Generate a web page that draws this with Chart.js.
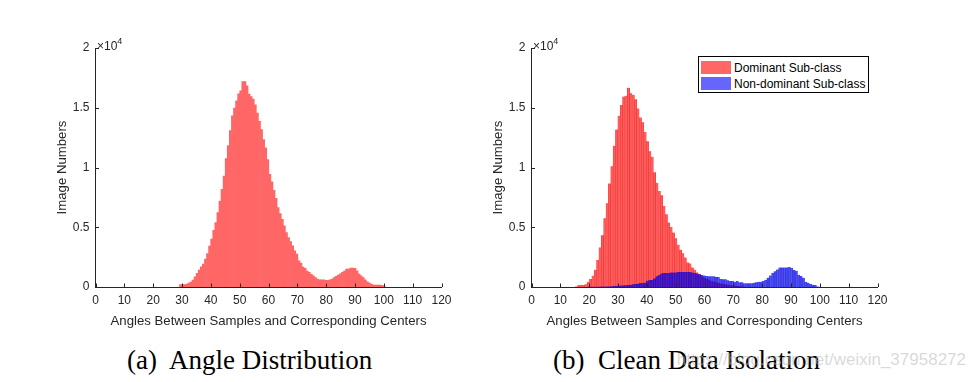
<!DOCTYPE html>
<html><head><meta charset="utf-8">
<script src="https://cdn.jsdelivr.net/npm/chart.js@4.4.1/dist/chart.umd.min.js"></script>
<style>
html,body{margin:0;padding:0;background:#fff;}
body{width:979px;height:382px;position:relative;overflow:hidden;font-family:"Liberation Sans",Arial,sans-serif;}
canvas{position:absolute;top:0;}
.exp{position:absolute;font-size:12px;color:#262626;line-height:12px;white-space:nowrap;}
.exp sup{font-size:9px;position:relative;top:-1px;}
.cap{position:absolute;font-family:"Liberation Serif","Times New Roman",serif;font-size:27px;color:#000;white-space:nowrap;line-height:27px;}
.legend{position:absolute;left:698px;top:56px;width:171px;height:37px;border:1px solid #000;background:#fff;box-sizing:border-box;}
.legend .row{position:absolute;left:2px;height:14px;font-size:12px;color:#000;line-height:14px;white-space:nowrap;}
.legend .sw{display:inline-block;width:30px;height:13px;vertical-align:top;margin-right:3px;}
.wm{position:absolute;right:13px;top:350px;font-size:17px;color:rgba(185,185,185,0.55);white-space:nowrap;}
</style></head>
<body>
<canvas id="c1" width="470" height="340" style="left:0px"></canvas>
<canvas id="c2" width="470" height="340" style="left:436px"></canvas>

<div class="exp" style="left:97px;top:36px">×10<sup>4</sup></div>
<div class="exp" style="left:533px;top:36px">×10<sup>4</sup></div>

<div class="legend">
  <div class="row" style="top:4px"><span class="sw" style="background:#ff6666"></span>Dominant Sub-class</div>
  <div class="row" style="top:20px"><span class="sw" style="background:#6666ff"></span>Non-dominant Sub-class</div>
</div>

<div class="cap" style="left:127px;top:347px">(a)&nbsp; Angle Distribution</div>
<div class="cap" style="left:553px;top:347px">(b)&nbsp; Clean Data Isolation</div>
<div class="wm">https://blog.csdn.net/weixin_37958272</div>

<script>
// ---- Data (counts of images per angle bin, in degrees) ----
const xTickValues = [0,10,20,30,40,50,60,70,80,90,100,110,120];
const yTickLabels = ["0","0.5","1","1.5","2"];

// (a) Angle distribution histogram
const angleBinStart = 29.5;
const angleBinWidth = 0.72;
const angleCounts = [
  200,200,200,250,330,420,580,860,1140,1420,
  1690,1920,2330,2800,3420,4000,4750,5390,6220,7200,
  8170,9280,10750,11830,13080,14330,14970,15580,16170,16420,
  17200,17200,16830,16140,15940,15720,15250,14560,13860,13170,
  12330,11640,10670,9420,8810,8080,7420,6640,6140,5670,
  5110,4560,4140,3810,3440,3030,2750,2190,2000,1670,
  1560,1330,1220,1060,940,780,670,610,610,610,
  560,560,610,670,780,890,1000,1110,1220,1330,
  1500,1500,1580,1580,1560,1360,1080,940,780,610,
  440,330,220,170,170,170,170,110,110
];

// (b) Clean data isolation histograms (shared bin grid)
const isoBinStart = 15.6;
const isoBinWidth = 0.82;
const dominantFirstBin = 0;
const dominantCounts = [
  50,170,170,170,220,440,670,940,1440,2250,
  3310,4330,5750,7000,8670,10110,11830,13170,14330,15220,
  15940,16000,16670,16220,16080,15720,14940,14190,13780,12970,
  12190,11360,10890,9610,8720,8030,7670,6780,6080,5390,
  5030,4560,4080,3530,3110,2830,2470,2060,1970,1640,
  1440,1220,1080,900,780,680,600,520,450,400,
  350,300,260,220,180,150,120,100,80,60,50,40
];
const nonDominantFirstBin = 5;
const nonDominantCounts = [
  30,30,30,30,30,40,40,40,50,50,
  60,80,100,110,120,140,150,170,190,220,
  250,280,330,330,360,530,580,580,720,890,
  1000,1140,1170,1170,1170,1220,1220,1220,1250,1250,
  1250,1250,1250,1250,1220,1170,1140,1060,1000,970,
  920,890,890,890,860,830,670,640,640,560,
  500,500,440,500,390,390,310,310,310,310,
  360,390,440,440,500,610,780,970,1190,1310,
  1470,1640,1640,1640,1640,1670,1610,1420,1360,1030,
  920,780,440,360,250,190,170,50,30
];

const xTitle = "Angles Between Samples and Corresponding Centers";
const yTitle = "Image Numbers";

function toPoints(counts, start, width, firstBin) {
  return counts.map((v, i) => ({ x: start + width * (firstBin + i), y: v }));
}

const AX = '#262626';
const inwardTicks = {
  id: 'inwardTicks',
  afterDatasetsDraw(chart) {
    const ctx = chart.ctx, xs = chart.scales.x, ys = chart.scales.y, a = chart.chartArea;
    ctx.save();
    ctx.strokeStyle = AX; ctx.lineWidth = 1;
    ctx.beginPath();
    xs.ticks.forEach(t => {
      const px = Math.round(xs.getPixelForValue(t.value)) + 0.5;
      ctx.moveTo(px, a.bottom); ctx.lineTo(px, a.bottom - 3.5);
    });
    ys.ticks.forEach(t => {
      const py = Math.round(ys.getPixelForValue(t.value)) + 0.5;
      ctx.moveTo(a.left, py); ctx.lineTo(a.left + 3.5, py);
    });
    ctx.stroke();
    ctx.restore();
  }
};

function makeChart(id, datasets) {
  return new Chart(document.getElementById(id), {
    type: 'bar',
    data: { datasets },
    options: {
      responsive: false,
      animation: false,
      events: [],
      layout: { padding: { top: 48, right: 28.5, bottom: 0, left: 54 } },
      plugins: { legend: { display: false }, tooltip: { enabled: false } },
      datasets: { bar: { barPercentage: 1, categoryPercentage: 1, grouped: false } },
      scales: {
        x: {
          type: 'linear', min: 0, max: 120, offset: false,
          afterBuildTicks: s => { s.ticks = xTickValues.map(v => ({ value: v })); },
          ticks: { color: AX, font: { family: 'Liberation Sans', size: 12 }, padding: 6, maxRotation: 0, autoSkip: false,
                   callback: v => String(v) },
          grid: { display: false, drawTicks: false, offset: false },
          border: { display: true, color: AX, width: 1 },
          title: { display: true, text: xTitle, color: AX, font: { family: 'Liberation Sans', size: 13.2 }, padding: { top: 0, bottom: 11 } },
          afterFit: s => { s.height = 53; }
        },
        y: {
          type: 'linear', min: 0, max: 20000,
          afterBuildTicks: s => { s.ticks = yTickLabels.map((_, i) => ({ value: i * 5000 })); },
          ticks: { color: AX, font: { family: 'Liberation Sans', size: 12 }, padding: 6,
                   callback: (v, i) => yTickLabels[i] },
          grid: { display: false, drawTicks: false },
          border: { display: true, color: AX, width: 1 },
          title: { display: true, text: yTitle, color: AX, font: { family: 'Liberation Sans', size: 13.2 }, padding: { top: 0, bottom: 0 } },
          afterFit: s => { s.width = 41.5; }
        }
      }
    },
    plugins: [inwardTicks]
  });
}

makeChart('c1', [{
  label: 'Angle Distribution',
  data: toPoints(angleCounts, angleBinStart, angleBinWidth, 0),
  backgroundColor: '#ff6666',
  borderWidth: 0
}]);

makeChart('c2', [{
  label: 'Dominant Sub-class',
  order: 2,
  data: toPoints(dominantCounts, isoBinStart, isoBinWidth, dominantFirstBin),
  backgroundColor: '#ff5c5c',
  borderColor: '#f02a2a',
  borderWidth: { left: 0.5, right: 0.5, top: 0, bottom: 0 }
}, {
  label: 'Non-dominant Sub-class',
  order: 1,
  data: toPoints(nonDominantCounts, isoBinStart, isoBinWidth, nonDominantFirstBin),
  backgroundColor: 'rgba(0,0,255,0.62)',
  borderColor: 'rgba(0,0,170,0.55)',
  borderWidth: { left: 0.5, right: 0.5, top: 0, bottom: 0 }
}]);
</script>
</body></html>
